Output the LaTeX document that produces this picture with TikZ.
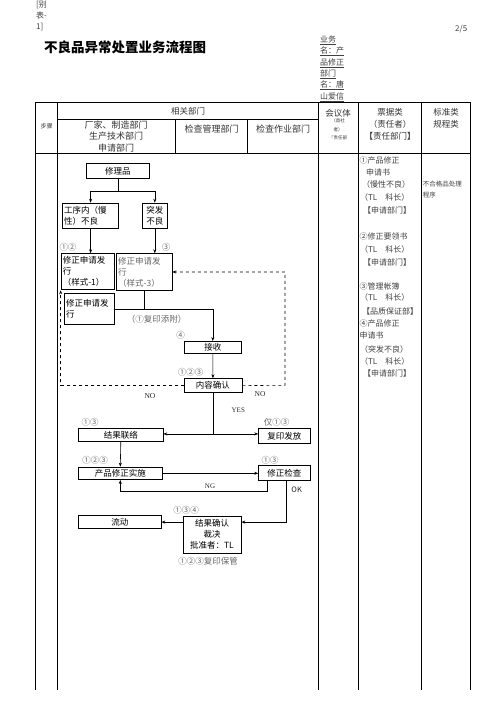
\documentclass[tikz,border=0pt]{standalone}
\usepackage{fontspec}
\setmainfont{Noto Sans CJK SC}
\newfontfamily\serifl{Liberation Serif}
\usetikzlibrary{arrows.meta,calc}
\begin{document}
\begin{tikzpicture}[x=1pt,y=-1pt,
  tbl/.style={line width=0.8pt},
  box/.style={draw, line width=0.6pt, anchor=north west, inner sep=1.5pt, font=\fontsize{8.5}{11}\selectfont},
  tag/.style={text=black!60, font=\fontsize{8.5}{10}\selectfont, inner sep=0pt},
  hdr/.style={text=black!80, font=\fontsize{8.5}{11}\selectfont, inner sep=0pt, align=center},
  doc/.style={text=black!75, font=\fontsize{8}{10}\selectfont, inner sep=0pt, anchor=west},
  arr/.style={-{Stealth[length=4pt,width=3pt]}, line width=0.6pt},
  fb/.style={dashed, line width=0.6pt, -{Stealth[length=4pt,width=3pt]}}
]
\useasboundingbox (0,0) rectangle (496,702);

% top texts
\node[doc, text=black!75, align=left, font=\fontsize{8}{10.8}\selectfont, anchor=north west] (bb) at (36,1) {[别\\表-\\1]};
\node[doc, text=black!75, font=\fontsize{8}{9}\selectfont] (pg) at (455,29) {2/5};
\node[inner sep=0pt, font=\fontsize{13.5}{15}\selectfont\bfseries, anchor=west] (title) at (44,47) {不良品异常处置业务流程图};
\node[doc, text=black!75] (m1) at (320,40) {\underline{业务}};
\node[doc, text=black!75] (m2) at (320,51.5) {\underline{名：产}};
\node[doc, text=black!75] (m3) at (320,63) {\underline{品修正}};
\node[doc, text=black!75] (m4) at (320,74) {\underline{部门}};
\node[doc, text=black!75] (m5) at (320,85.5) {\underline{名：唐}};
\node[doc, text=black!75] (m6) at (320,97) {\underline{山爱信}};

% table
\draw[tbl] (35.7,102) -- (470,102);
\draw[tbl] (35.7,153.3) -- (470,153.3);
\draw[tbl] (57.3,119.3) -- (318.3,119.3);
\foreach \xx in {35.7,57.3,318.3,358.3,421.7,470} \draw[tbl] (\xx,102) -- (\xx,690);
\foreach \xx in {175.7,247.3} \draw[tbl] (\xx,119.3) -- (\xx,153.3);

\node[hdr, font=\fontsize{6}{7}\selectfont] (h0) at (46.5,126) {步骤};
\node[hdr] (h1) at (188,111) {相关部门};
\node[hdr, font=\fontsize{9}{11.3}\selectfont] (h2) at (116,136.5) {厂家、制造部门\\生产技术部门\\申请部门};
\node[hdr, font=\fontsize{9}{11}\selectfont] (h3) at (211.5,129) {检查管理部门};
\node[hdr, font=\fontsize{9}{11}\selectfont] (h4) at (283,129) {检查作业部门};
\node[hdr, font=\fontsize{8.5}{10}\selectfont] (h5) at (338,113) {会议体};
\node[hdr, font=\fontsize{4.5}{8.5}\selectfont] (h5b) at (338,129.5) {（首社\\者）\\『责任部};
\node[hdr, font=\fontsize{8.5}{11.8}\selectfont] (h6) at (390,124) {票据类\\（责任者）\\【责任部门】};
\node[hdr, font=\fontsize{8.5}{12.5}\selectfont] (h7) at (446,118.5) {标准类\\规程类};

% right column documents
\node[doc] (d1) at (359.3,160) {①产品修正};
\node[doc] (d2) at (366,172.3) {申请书};
\node[doc] (d3) at (362,184.3) {（慢性不良）};
\node[doc] (d4) at (360,197.7) {（TL\quad 科长）};
\node[doc] (d5) at (363,210.7) {【申请部门】};
\node[doc] (d6) at (359.3,236) {②修正要领书};
\node[doc] (d7) at (360,249.3) {（TL\quad 科长）};
\node[doc] (d8) at (363,262.3) {【申请部门】};
\node[doc] (d9) at (359.3,286) {③管理帐簿};
\node[doc] (d10) at (360,297.7) {（TL\quad 科长）};
\node[doc] (d11) at (362,311) {【品质保证部】};
\node[doc] (d12) at (359.3,323.3) {④产品修正};
\node[doc] (d13) at (359.3,335.5) {申请书};
\node[doc] (d14) at (360,349) {（突发不良）};
\node[doc] (d15) at (360,361.7) {（TL\quad 科长）};
\node[doc] (d16) at (363,373.3) {【申请部门】};
\node[doc, font=\fontsize{6.5}{8}\selectfont] (st1) at (422.7,184.3) {不合格品处理};
\node[doc, font=\fontsize{6.5}{8}\selectfont] (st2) at (422.7,195.5) {程序};

% flow boxes
\node[box, minimum width=63, minimum height=15] (repair) at (86,163.3) {修理品};
\node[box, minimum width=56, minimum height=25.6, text width=53, align=left] (chronic) at (62.3,202.7) {工序内（慢\\性）不良};
\node[box, minimum width=25.6, minimum height=25.6, align=center] (sudden) at (141.7,202.7) {突发\\不良};
\node[box, minimum width=53, minimum height=36, text width=50, align=left] (s1) at (61,253.3) {修正申请发\\行\\（样式-1）};
\node[box, minimum width=55.4, minimum height=36.7, text width=52.4, align=left, text=black!60] (s3) at (116.3,253.3) {修正申请发\\行\\（样式-3）};
\node[box, minimum width=49.7, minimum height=31.6, text width=46.7, align=left] (s4) at (64.3,292.7) {修正申请发\\行};
\node[box, minimum width=57, minimum height=12.3] (recv) at (184,341) {接收};
\node[box, minimum width=58.3, minimum height=14] (confirm) at (183.5,378.3) {内容确认};
\node[box, minimum width=84.4, minimum height=12.7] (result) at (78.3,428.3) {结果联络};
\node[box, minimum width=51.7, minimum height=15] (copy) at (258.3,428.3) {复印发放};
\node[box, minimum width=83.4, minimum height=12.6] (impl) at (78.3,466.7) {产品修正实施};
\node[box, minimum width=51.7, minimum height=15] (check) at (258.3,465) {修正检查};
\node[box, minimum width=58, minimum height=36.7, align=center] (final) at (182.7,516) {结果确认\\裁决\\批准者：TL};
\node[box, minimum width=82.4, minimum height=13] (flow) at (78.3,515.3) {流动};

% labels
\node[tag] (l1) at (68,247.3) {①②};
\node[tag] (l2) at (166,247) {③};
\node[tag] (l3) at (156.5,319) {（①复印添附）};
\node[tag] (l4) at (180.7,335.7) {④};
\node[tag] (l5) at (190.5,372.3) {①②③};
\node[tag, font=\serifl\fontsize{7.5}{9}\selectfont, text=black!85] (no1) at (150,396) {NO};
\node[tag, font=\serifl\fontsize{7.5}{9}\selectfont, text=black!85] (no2) at (260,394) {NO};
\node[tag, font=\serifl\fontsize{7}{9}\selectfont, text=black!85] (yes) at (238.3,410) {YES};
\node[tag] (l6) at (90,422.7) {①③};
\node[tag] (l7) at (276.7,422.7) {仅①③};
\node[tag] (l8) at (95,460.7) {①②③};
\node[tag] (l9) at (270,460.7) {①③};
\node[tag, font=\serifl\fontsize{7}{9}\selectfont, text=black!85] (ng) at (210,486) {NG};
\node[tag, font=\fontsize{7.5}{9}\selectfont, text=black!85] (ok) at (296.7,490) {OK};
\node[tag] (l10) at (186,510) {①③④};
\node[tag] (l11) at (208,561) {①②③复印保管};

% connectors
\coordinate (br) at ($(repair.south)+(0,12.4)$);
\draw[arr] (repair.south) -- (br) -| (sudden.north);
\draw[arr] (br) -| (chronic.north);
\draw[arr] (chronic.south) -- (chronic.south |- s1.north);
\draw[arr] (sudden.south) -- (sudden.south |- s3.north);
\draw[line width=0.6pt] (s3.south) -- (s3.south |- s4.east);
\draw[arr] (s4.east) -| (recv.north);
\draw[arr] (recv.south) -- (confirm.north);
\coordinate (fbL) at (60.7,290.3);
\coordinate (fbR) at (285,385.3);
\draw[fb] (confirm.west) -| (fbL);
\draw[fb] (confirm.east) -- (fbR) |- (s3.east);
\coordinate (split) at ($(confirm.south)+(0,41)$);
\draw[line width=0.6pt] (confirm.south) -- (split);
\draw[arr] (split) -- (split -| result.east);
\draw[arr] (split) -- (split -| copy.west);
\draw[arr] (result.south) -- (impl.north);
\draw[arr] (impl.east) -- (impl.east -| check.west);
\draw[arr] ([xshift=-17.5pt]check.south) -- ++(0,11) -| (impl.south);
\draw[arr] ([xshift=1.5pt]check.south) |- (final.east |- flow.east);
\draw[arr] (final.west |- flow.east) -- (flow.east);
\end{tikzpicture}
\end{document}
